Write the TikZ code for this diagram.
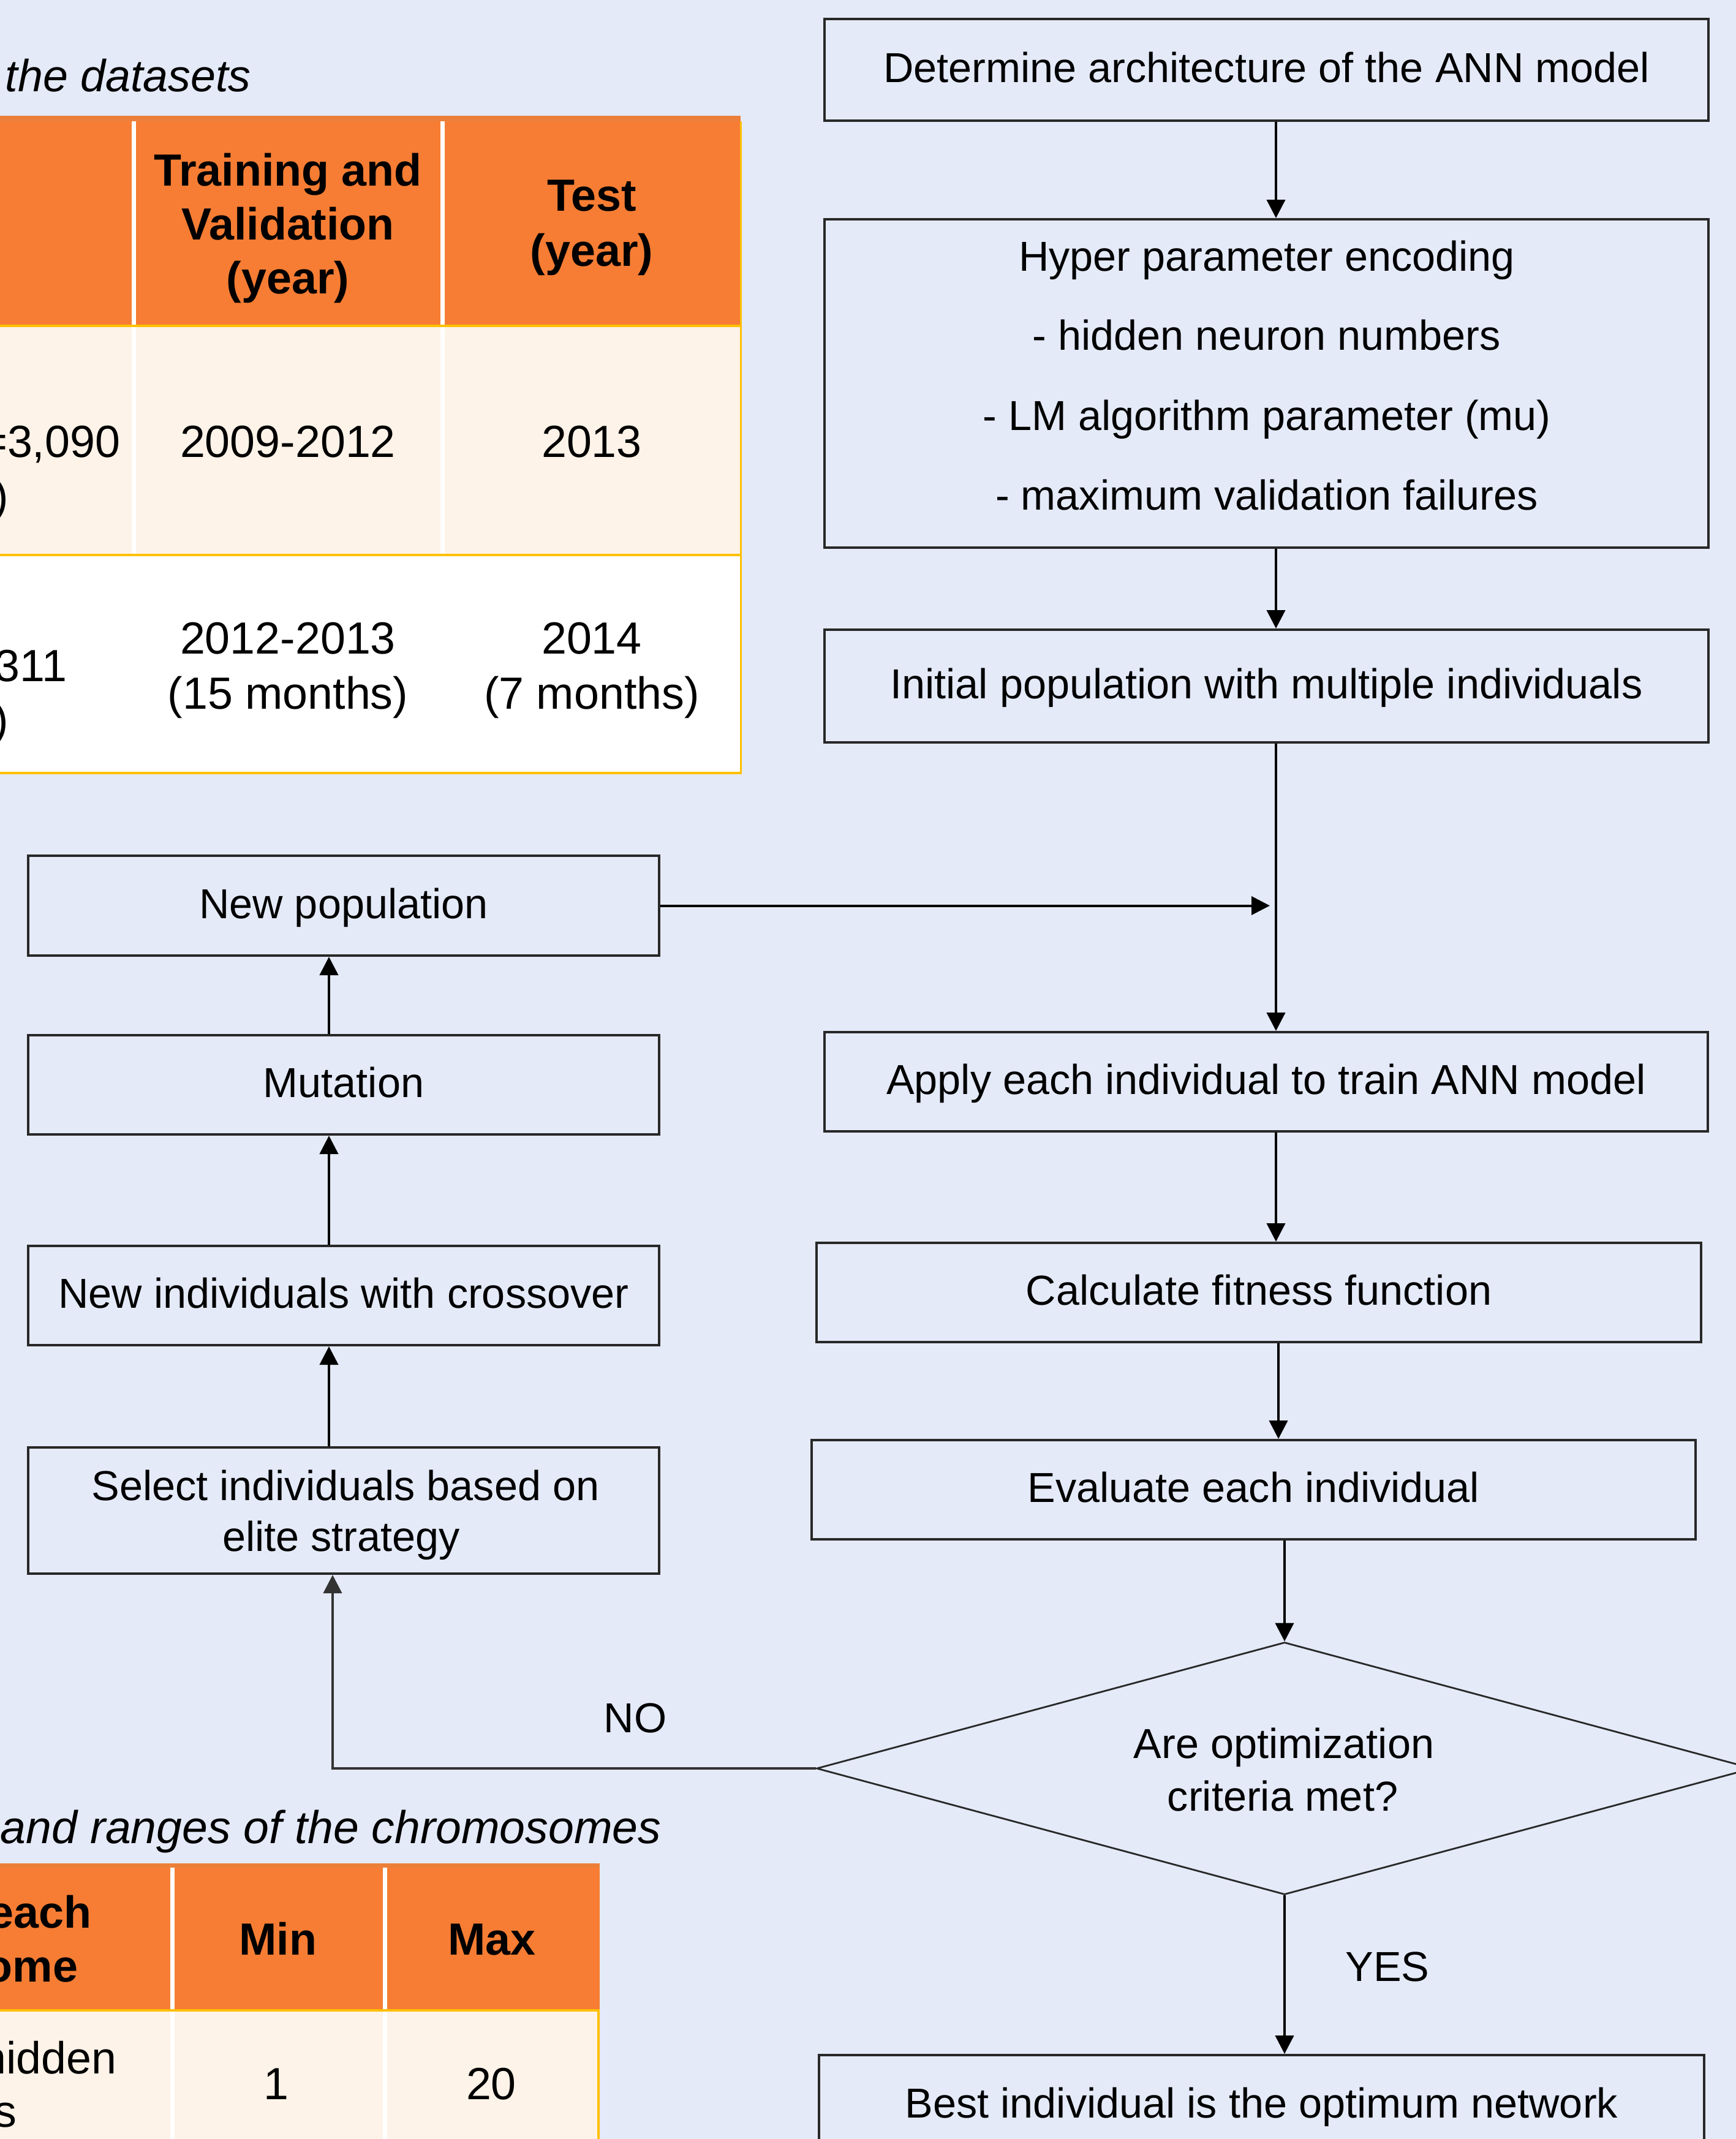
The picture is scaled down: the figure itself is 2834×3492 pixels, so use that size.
\documentclass[tikz,border=0pt]{standalone}
\usepackage{fontspec}
\setmainfont{Liberation Sans}
\usetikzlibrary{arrows.meta,shapes.geometric}
\definecolor{bg}{RGB}{228,234,248}
\definecolor{hdr}{RGB}{246,125,51}
\definecolor{hdrtop}{RGB}{236,128,58}
\definecolor{peach}{RGB}{254,243,232}
\definecolor{ylw}{RGB}{255,192,0}
\definecolor{boxline}{RGB}{40,40,40}
\begin{document}
\begin{tikzpicture}[x=0.25pt,y=-0.25pt,
  fc/.style={draw=boxline,line width=1pt,fill=bg,inner sep=0pt,
    font=\fontsize{17.1pt}{20.5pt}\selectfont,text height=13.7pt,text depth=3.4pt},
  arr/.style={draw=black,line width=1pt,-{Triangle[length=7.5pt,width=7.5pt]}},
  flbl/.style={font=\fontsize{17.1pt}{20.5pt}\selectfont,inner sep=0pt,anchor=base},
  tabtxt/.style={font=\fontsize{18.4pt}{22pt}\selectfont,inner sep=0pt,anchor=base},
  tabhd/.style={font=\fontsize{18.4pt}{22pt}\selectfont\bfseries,inner sep=0pt,anchor=base},
  capt/.style={font=\fontsize{18.4pt}{22pt}\selectfont\itshape,inner sep=0pt,anchor=base west},
  sep/.style={draw=white,line width=1.75pt},
  yl/.style={draw=ylw,line width=0.8pt},
]
\fill[bg] (0,0) rectangle (2834,3492);
\useasboundingbox (0,0) rectangle (2834,3492);
\clip (0,0) rectangle (2834,3492);

% ---------- Table 1 ----------
\node[capt] (cap1) at (8,149) {the datasets};
\fill[hdr] (-10,190) rectangle (1209,532);
\fill[hdrtop] (-10,189) rectangle (1209,198);
\fill[peach] (-10,532) rectangle (1209,906);
\fill[white] (-10,906) rectangle (1209,1262);
\draw[sep] (218,198) -- (218,906);
\draw[sep] (722,198) -- (722,906);
\draw[yl] (-10,532) -- (1209,532);
\draw[yl] (-10,906) -- (1209,906);
\draw[yl] (-10,1262) -- (1211,1262);
\draw[yl] (1209.5,198) -- (1209.5,1263);

\node[tabhd] (h1a) at (470,303) {Training and};
\node[tabhd] (h1b) at (470,391) {Validation};
\node[tabhd] (h1c) at (470,479) {(year)};
\node[tabhd] (h2a) at (966,344) {Test};
\node[tabhd] (h2b) at (966,434) {(year)};

\node[tabtxt,anchor=base east] (r1a) at (197,746) {=3,090};
\node[tabtxt,anchor=base west] (r1b) at (-11,835) {)};
\node[tabtxt] (r1c) at (470,746) {2009-2012};
\node[tabtxt] (r1d) at (966,746) {2013};

\node[tabtxt,anchor=base east] (r2a) at (110,1112) {311};
\node[tabtxt,anchor=base west] (r2b) at (-11,1200) {)};
\node[tabtxt] (r2c) at (470,1067) {2012-2013};
\node[tabtxt] (r2d) at (470,1157) {(15 months)};
\node[tabtxt] (r2e) at (966,1067) {2014};
\node[tabtxt] (r2f) at (966,1157) {(7 months)};

% ---------- Table 2 ----------
\node[capt,font=\fontsize{18.8pt}{22pt}\selectfont\itshape] (cap2) at (0,3009) {and ranges of the chromosomes};
\fill[hdr] (-10,3042) rectangle (979,3282);
\fill[hdrtop] (-10,3042) rectangle (979,3049);
\fill[peach] (-10,3282) rectangle (977,3500);
\draw[sep] (281,3049) -- (281,3500);
\draw[sep] (628,3049) -- (628,3500);
\draw[yl] (-10,3282) -- (979,3282);
\draw[yl] (977,3282) -- (977,3500);

\node[tabhd,anchor=base east] (t2a) at (150,3147) {each};
\node[tabhd,anchor=base east] (t2b) at (128,3235) {ome};
\node[tabhd] (t2c) at (454,3191) {Min};
\node[tabhd] (t2d) at (803,3191) {Max};
\node[tabtxt,anchor=base east] (t2e) at (191,3385) {hidden};
\node[tabtxt,anchor=base east] (t2f) at (28,3472) {s};
\node[tabtxt] (t2g) at (451,3427) {1};
\node[tabtxt] (t2h) at (802,3427) {20};

% ---------- Flowchart right column ----------
\node[fc,minimum width=360.75pt,minimum height=41.5pt] (n1) at (2067.5,114) {Determine architecture of the ANN model};
\node[fc,minimum width=360.75pt,minimum height=134pt] (n2) at (2067.5,626) {};
\node[flbl] (n2a) at (2068,442) {Hyper parameter encoding};
\node[flbl] (n2b) at (2068,571) {- hidden neuron numbers};
\node[flbl] (n2c) at (2068,702) {- LM algorithm parameter (mu)};
\node[flbl] (n2d) at (2068,832) {- maximum validation failures};
\node[fc,minimum width=360.75pt,minimum height=46pt] (n3) at (2067.5,1120) {Initial population with multiple individuals};
\node[fc,minimum width=360.5pt,minimum height=40.5pt] (n4) at (2067,1766) {Apply each individual to train ANN model};
\node[fc,minimum width=361pt,minimum height=40.5pt] (n5) at (2055,2110) {Calculate fitness function};
\node[fc,minimum width=360.75pt,minimum height=40.5pt] (n6) at (2046.5,2432) {Evaluate each individual};
\node[draw=boxline,line width=0.7pt,fill=bg,diamond,inner sep=0pt,
      minimum width=382pt,minimum height=103pt] (dia) at (2097,2887) {};
\node[flbl] (dia1) at (2096,2870) {Are optimization};
\node[flbl] (dia2) at (2094,2956) {criteria met?};
\node[fc,minimum width=361.25pt,minimum height=40.75pt] (n7) at (2059.5,3436.5) {Best individual is the optimum network};

% ---------- Flowchart left column ----------
\node[fc,minimum width=257.5pt,minimum height=40.75pt] (np) at (561,1478.5) {New population};
\node[fc,minimum width=257.5pt,minimum height=40.5pt] (mu) at (561,1771) {Mutation};
\node[fc,minimum width=257.5pt,minimum height=40.5pt] (ni) at (561,2115) {New individuals with crossover};
\node[fc,minimum width=257.5pt,minimum height=51.5pt] (se) at (561,2466) {};
\node[flbl] (se1) at (564,2449) {Select individuals based on};
\node[flbl] (se2) at (557,2532) {elite strategy};

\node[flbl] (nolbl) at (1037,2828) {NO};
\node[flbl] (yeslbl) at (2265,3234) {YES};

% ---------- Connectors ----------
\coordinate (sx) at (2083,0);
\coordinate (sx2) at (2087,0);
\coordinate (lx) at (537,0);
\coordinate (nx) at (543,0);
\draw[arr] (n1.south -| sx) -- (n2.north -| sx);
\draw[arr] (n2.south -| sx) -- (n3.north -| sx);
\draw[arr] (n3.south -| sx) -- (n4.north -| sx);
\draw[arr] (n4.south -| sx) -- (n5.north -| sx);
\draw[arr] (n5.south -| sx2) -- (n6.north -| sx2);
\draw[arr] (n6.south -| dia.north) -- (dia.north);
\draw[arr] (dia.south) -- (n7.north -| dia.south);
\draw[arr,shorten >=2.5pt] (np.east) -- (np.east -| sx);
\draw[arr] (mu.north -| lx) -- (np.south -| lx);
\draw[arr] (ni.north -| lx) -- (mu.south -| lx);
\draw[arr] (se.north -| lx) -- (ni.south -| lx);
\draw[arr,draw=black!80] (dia.west) -| (se.south -| nx);
\end{tikzpicture}
\end{document}
